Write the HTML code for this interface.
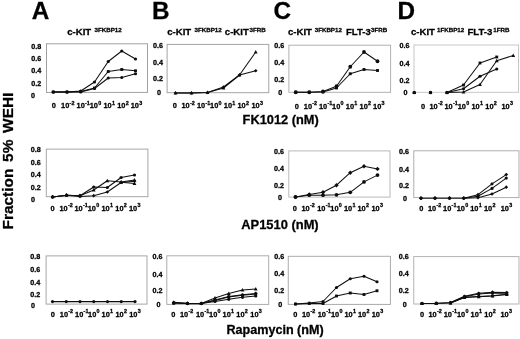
<!DOCTYPE html>
<html><head><meta charset="utf-8"><title>Figure</title>
<style>html,body{margin:0;padding:0;background:#fff;}body{width:520px;height:339px;overflow:hidden;}svg{display:block;font-family:'Liberation Sans', sans-serif;}text{fill:#000;stroke:#000;stroke-width:0.28px;}</style></head><body>
<svg width="520" height="339" viewBox="0 0 520 339">
<defs><filter id="soft" x="0" y="0" width="520" height="339" filterUnits="userSpaceOnUse"><feGaussianBlur stdDeviation="0.35"/></filter></defs>
<rect width="520" height="339" fill="#fff"/>
<g id="fig" filter="url(#soft)">
<text x="31.8" y="18.5" font-size="24.3" font-weight="700" stroke="#000" stroke-width="0.5">A</text>
<text x="152" y="18.5" font-size="24.3" font-weight="700" stroke="#000" stroke-width="0.5">B</text>
<text x="273.6" y="18.5" font-size="24.3" font-weight="700" stroke="#000" stroke-width="0.5">C</text>
<text x="397.6" y="18.5" font-size="24.3" font-weight="700" stroke="#000" stroke-width="0.5">D</text>
<text y="34.5" font-weight="700"><tspan x="67.2" y="35" font-size="9.6">c-KIT</tspan><tspan x="94.5" y="32.3" font-size="6.2">3FKBP12</tspan></text>
<text y="34.5" font-weight="700"><tspan x="167.2" y="35" font-size="9.6">c-KIT</tspan><tspan x="194.5" y="32.3" font-size="6.2">3FKBP12</tspan><tspan x="224.8" y="35" font-size="9.6">c-KIT</tspan><tspan x="249.5" y="32.3" font-size="6.2">3FRB</tspan></text>
<text y="34.5" font-weight="700"><tspan x="288" y="35" font-size="9.6">c-KIT</tspan><tspan x="314.7" y="32.3" font-size="6.2">3FKBP12</tspan><tspan x="346" y="35" font-size="9.6">FLT-3</tspan><tspan x="371.1" y="32.3" font-size="6.2">3FRB</tspan></text>
<text y="34.5" font-weight="700"><tspan x="411" y="35" font-size="9.6">c-KIT</tspan><tspan x="437" y="32.3" font-size="6.2">1FKBP12</tspan><tspan x="467.4" y="35" font-size="9.6">FLT-3</tspan><tspan x="493.2" y="32.3" font-size="6.2">1FRB</tspan></text>
<text x="242.6" y="124" font-size="12.8" font-weight="700" stroke-width="0.38">FK1012 (nM)</text>
<text x="241.3" y="228.6" font-size="12.9" font-weight="700" stroke-width="0.38">AP1510 (nM)</text>
<text x="226.4" y="333.7" font-size="12.6" font-weight="700" stroke-width="0.38">Rapamycin (nM)</text>
<text transform="translate(13.4 229.4) rotate(-90)" font-size="15.4" word-spacing="2.5" font-weight="700" stroke-width="0.3">Fraction 5% WEHI</text>
<rect x="46.5" y="43.8" width="101" height="48.6" fill="none" stroke="#9c9c9c" stroke-width="0.95"/>
<text x="41.2" y="48.55" text-anchor="end" font-size="7.2" font-weight="700">0.8</text><text x="41.2" y="60.55" text-anchor="end" font-size="7.2" font-weight="700">0.6</text><text x="41.2" y="73.05" text-anchor="end" font-size="7.2" font-weight="700">0.4</text><text x="41.2" y="85.75" text-anchor="end" font-size="7.2" font-weight="700">0.2</text><text x="30.9" y="97.55" text-anchor="start" font-size="7.2" font-weight="700">0</text>
<text x="53.7" y="108.1" text-anchor="middle" font-size="7.4" font-weight="700">0</text><text x="65.2" y="108.1" text-anchor="middle" font-size="7.4" font-weight="700">10</text><text x="69.61" y="104.8" text-anchor="start" font-size="5.4" font-weight="700">-2</text><text x="80.65" y="108.1" text-anchor="middle" font-size="7.4" font-weight="700">10</text><text x="85.06" y="104.8" text-anchor="start" font-size="5.4" font-weight="700">-1</text><text x="93.75" y="108.1" text-anchor="middle" font-size="7.4" font-weight="700">10</text><text x="98.16" y="104.8" text-anchor="start" font-size="5.4" font-weight="700">0</text><text x="107.6" y="108.1" text-anchor="middle" font-size="7.4" font-weight="700">10</text><text x="112.01" y="104.8" text-anchor="start" font-size="5.4" font-weight="700">1</text><text x="121.25" y="108.1" text-anchor="middle" font-size="7.4" font-weight="700">10</text><text x="125.66" y="104.8" text-anchor="start" font-size="5.4" font-weight="700">2</text><text x="134.85" y="108.1" text-anchor="middle" font-size="7.4" font-weight="700">10</text><text x="139.26" y="104.8" text-anchor="start" font-size="5.4" font-weight="700">3</text>
<polyline points="53.25,92 67,92 80.75,91 94.5,82 108.25,61.5 121.75,51 135.5,59" fill="none" stroke="#111" stroke-width="1.05" stroke-linejoin="round"/><g fill="#111"><circle cx="53.25" cy="92" r="1.6"/><circle cx="67" cy="92" r="1.6"/><circle cx="80.75" cy="91" r="1.6"/><circle cx="94.5" cy="82" r="1.6"/><circle cx="108.25" cy="61.5" r="1.6"/><circle cx="121.75" cy="51" r="1.6"/><circle cx="135.5" cy="59" r="1.6"/></g>
<polyline points="53.25,92 67,92 80.75,91.5 94.5,88 108.25,71.5 121.75,69.5 135.5,70.75" fill="none" stroke="#111" stroke-width="1.05" stroke-linejoin="round"/><g fill="#111"><rect x="51.81" y="90.56" width="2.88" height="2.88"/><rect x="65.56" y="90.56" width="2.88" height="2.88"/><rect x="79.31" y="90.06" width="2.88" height="2.88"/><rect x="93.06" y="86.56" width="2.88" height="2.88"/><rect x="106.81" y="70.06" width="2.88" height="2.88"/><rect x="120.31" y="68.06" width="2.88" height="2.88"/><rect x="134.06" y="69.31" width="2.88" height="2.88"/></g>
<polyline points="53.25,92 67,92 80.75,92 94.5,88.5 108.25,78 121.75,77.5 135.5,73.75" fill="none" stroke="#111" stroke-width="1.05" stroke-linejoin="round"/><g fill="#111"><circle cx="53.25" cy="92" r="1.6"/><circle cx="67" cy="92" r="1.6"/><circle cx="80.75" cy="92" r="1.6"/><circle cx="94.5" cy="88.5" r="1.6"/><circle cx="108.25" cy="78" r="1.6"/><circle cx="121.75" cy="77.5" r="1.6"/><circle cx="135.5" cy="73.75" r="1.6"/></g>
<rect x="167.1" y="44.4" width="101.7" height="48.3" fill="none" stroke="#a0a0a0" stroke-width="0.95"/>
<text x="163" y="47.55" text-anchor="end" font-size="7.2" font-weight="700">0.6</text><text x="163" y="64.85" text-anchor="end" font-size="7.2" font-weight="700">0.4</text><text x="163" y="81.45" text-anchor="end" font-size="7.2" font-weight="700">0.2</text><text x="161" y="94.75" text-anchor="end" font-size="7.2" font-weight="700">0</text>
<text x="174.8" y="108.3" text-anchor="middle" font-size="7.4" font-weight="700">0</text><text x="185.5" y="108.3" text-anchor="middle" font-size="7.4" font-weight="700">10</text><text x="189.91" y="105" text-anchor="start" font-size="5.4" font-weight="700">-2</text><text x="201.1" y="108.3" text-anchor="middle" font-size="7.4" font-weight="700">10</text><text x="205.51" y="105" text-anchor="start" font-size="5.4" font-weight="700">-1</text><text x="214.2" y="108.3" text-anchor="middle" font-size="7.4" font-weight="700">10</text><text x="218.61" y="105" text-anchor="start" font-size="5.4" font-weight="700">0</text><text x="227.9" y="108.3" text-anchor="middle" font-size="7.4" font-weight="700">10</text><text x="232.31" y="105" text-anchor="start" font-size="5.4" font-weight="700">1</text><text x="241.6" y="108.3" text-anchor="middle" font-size="7.4" font-weight="700">10</text><text x="246.01" y="105" text-anchor="start" font-size="5.4" font-weight="700">2</text><text x="255.6" y="108.3" text-anchor="middle" font-size="7.4" font-weight="700">10</text><text x="260.01" y="105" text-anchor="start" font-size="5.4" font-weight="700">3</text>
<polyline points="175.5,93 191.5,93 207.5,92.5 223.5,88 239.5,75 255.75,52" fill="none" stroke="#111" stroke-width="1.05" stroke-linejoin="round"/><g fill="#111"><path d="M175.5 90.92L177.42 94.44L173.58 94.44Z"/><path d="M191.5 90.92L193.42 94.44L189.58 94.44Z"/><path d="M207.5 90.42L209.42 93.94L205.58 93.94Z"/><path d="M223.5 85.92L225.42 89.44L221.58 89.44Z"/><path d="M239.5 72.92L241.42 76.44L237.58 76.44Z"/><path d="M255.75 49.92L257.67 53.44L253.83 53.44Z"/></g>
<polyline points="175.5,93 191.5,93 207.5,92.5 223.5,87 239.5,75 255.75,70.75" fill="none" stroke="#111" stroke-width="1.05" stroke-linejoin="round"/><g fill="#111"><path d="M175.5 91.16L177.34 93L175.5 94.84L173.66 93Z"/><path d="M191.5 91.16L193.34 93L191.5 94.84L189.66 93Z"/><path d="M207.5 90.66L209.34 92.5L207.5 94.34L205.66 92.5Z"/><path d="M223.5 85.16L225.34 87L223.5 88.84L221.66 87Z"/><path d="M239.5 73.16L241.34 75L239.5 76.84L237.66 75Z"/><path d="M255.75 68.91L257.59 70.75L255.75 72.59L253.91 70.75Z"/></g>
<rect x="288.9" y="45.2" width="101.7" height="47.1" fill="none" stroke="#adadad" stroke-width="0.95"/>
<text x="284.3" y="47.95" text-anchor="end" font-size="7.2" font-weight="700">0.6</text><text x="284.3" y="65.15" text-anchor="end" font-size="7.2" font-weight="700">0.4</text><text x="284.3" y="82.05" text-anchor="end" font-size="7.2" font-weight="700">0.2</text><text x="282.3" y="94.8" text-anchor="end" font-size="7.2" font-weight="700">0</text>
<text x="296.9" y="108.6" text-anchor="middle" font-size="7.4" font-weight="700">0</text><text x="307.9" y="108.6" text-anchor="middle" font-size="7.4" font-weight="700">10</text><text x="312.31" y="105.3" text-anchor="start" font-size="5.4" font-weight="700">-2</text><text x="323.1" y="108.6" text-anchor="middle" font-size="7.4" font-weight="700">10</text><text x="327.51" y="105.3" text-anchor="start" font-size="5.4" font-weight="700">-1</text><text x="336.2" y="108.6" text-anchor="middle" font-size="7.4" font-weight="700">10</text><text x="340.61" y="105.3" text-anchor="start" font-size="5.4" font-weight="700">0</text><text x="349.9" y="108.6" text-anchor="middle" font-size="7.4" font-weight="700">10</text><text x="354.31" y="105.3" text-anchor="start" font-size="5.4" font-weight="700">1</text><text x="363.7" y="108.6" text-anchor="middle" font-size="7.4" font-weight="700">10</text><text x="368.11" y="105.3" text-anchor="start" font-size="5.4" font-weight="700">2</text><text x="377.2" y="108.6" text-anchor="middle" font-size="7.4" font-weight="700">10</text><text x="381.61" y="105.3" text-anchor="start" font-size="5.4" font-weight="700">3</text>
<polyline points="295.75,92.25 309.25,92.25 323,91.5 336.5,86.25 350.25,66.75 364,52 377.5,61.25" fill="none" stroke="#111" stroke-width="1.05" stroke-linejoin="round"/><g fill="#111"><circle cx="295.75" cy="92.25" r="1.9"/><circle cx="309.25" cy="92.25" r="1.9"/><circle cx="323" cy="91.5" r="1.9"/><circle cx="336.5" cy="86.25" r="1.9"/><circle cx="350.25" cy="66.75" r="1.9"/><circle cx="364" cy="52" r="1.9"/><circle cx="377.5" cy="61.25" r="1.9"/></g>
<polyline points="295.75,92.25 309.25,92.25 323,92 336.5,88 350.25,73.75 364,69.5 377.5,70.5" fill="none" stroke="#111" stroke-width="1.05" stroke-linejoin="round"/><g fill="#111"><rect x="294.31" y="90.81" width="2.88" height="2.88"/><rect x="307.81" y="90.81" width="2.88" height="2.88"/><rect x="321.56" y="90.56" width="2.88" height="2.88"/><rect x="335.06" y="86.56" width="2.88" height="2.88"/><rect x="348.81" y="72.31" width="2.88" height="2.88"/><rect x="362.56" y="68.06" width="2.88" height="2.88"/><rect x="376.06" y="69.06" width="2.88" height="2.88"/></g>
<rect x="414" y="45" width="104.5" height="47.3" fill="none" stroke="#c4c4c4" stroke-width="0.95"/>
<text x="409.5" y="48.25" text-anchor="end" font-size="7.2" font-weight="700">0.6</text><text x="409.5" y="65.55" text-anchor="end" font-size="7.2" font-weight="700">0.4</text><text x="409.5" y="82.55" text-anchor="end" font-size="7.2" font-weight="700">0.2</text><text x="407.5" y="95.05" text-anchor="end" font-size="7.2" font-weight="700">0</text>
<text x="423" y="108.6" text-anchor="middle" font-size="7.4" font-weight="700">0</text><text x="433.5" y="108.6" text-anchor="middle" font-size="7.4" font-weight="700">10</text><text x="437.91" y="105.3" text-anchor="start" font-size="5.4" font-weight="700">-2</text><text x="448.6" y="108.6" text-anchor="middle" font-size="7.4" font-weight="700">10</text><text x="453.01" y="105.3" text-anchor="start" font-size="5.4" font-weight="700">-1</text><text x="461.75" y="108.6" text-anchor="middle" font-size="7.4" font-weight="700">10</text><text x="466.16" y="105.3" text-anchor="start" font-size="5.4" font-weight="700">0</text><text x="475.5" y="108.6" text-anchor="middle" font-size="7.4" font-weight="700">10</text><text x="479.91" y="105.3" text-anchor="start" font-size="5.4" font-weight="700">1</text><text x="489.4" y="108.6" text-anchor="middle" font-size="7.4" font-weight="700">10</text><text x="493.81" y="105.3" text-anchor="start" font-size="5.4" font-weight="700">2</text><text x="505.6" y="108.6" text-anchor="middle" font-size="7.4" font-weight="700">10</text><text x="510.01" y="105.3" text-anchor="start" font-size="5.4" font-weight="700">3</text>
<polyline points="447,92.6 463.5,85 480,63 496.75,57" fill="none" stroke="#111" stroke-width="1.05" stroke-linejoin="round"/><g fill="#111"><rect x="412.81" y="91.16" width="2.88" height="2.88"/><rect x="429.06" y="91.16" width="2.88" height="2.88"/><rect x="445.56" y="91.16" width="2.88" height="2.88"/><rect x="462.06" y="83.56" width="2.88" height="2.88"/><rect x="478.56" y="61.56" width="2.88" height="2.88"/><rect x="495.31" y="55.56" width="2.88" height="2.88"/></g>
<polyline points="447,92.6 463.5,88.75 480,76.25 496.75,69" fill="none" stroke="#111" stroke-width="1.05" stroke-linejoin="round"/><g fill="#111"><circle cx="414.25" cy="92.6" r="1.6"/><circle cx="430.5" cy="92.6" r="1.6"/><circle cx="447" cy="92.6" r="1.6"/><circle cx="463.5" cy="88.75" r="1.6"/><circle cx="480" cy="76.25" r="1.6"/><circle cx="496.75" cy="69" r="1.6"/></g>
<polyline points="447,92.6 463.5,92 480,84.5 496.75,60.75 513.25,55.5" fill="none" stroke="#111" stroke-width="1.05" stroke-linejoin="round"/><g fill="#111"><path d="M414.25 90.52L416.17 94.04L412.33 94.04Z"/><path d="M430.5 90.52L432.42 94.04L428.58 94.04Z"/><path d="M447 90.52L448.92 94.04L445.08 94.04Z"/><path d="M463.5 89.92L465.42 93.44L461.58 93.44Z"/><path d="M480 82.42L481.92 85.94L478.08 85.94Z"/><path d="M496.75 58.67L498.67 62.19L494.83 62.19Z"/><path d="M513.25 53.42L515.17 56.94L511.33 56.94Z"/></g>
<rect x="46.3" y="149.1" width="101.6" height="47.6" fill="none" stroke="#a2a2a2" stroke-width="0.95"/>
<text x="40.7" y="152.25" text-anchor="end" font-size="7.2" font-weight="700">0.8</text><text x="40.7" y="165.05" text-anchor="end" font-size="7.2" font-weight="700">0.6</text><text x="40.7" y="177.35" text-anchor="end" font-size="7.2" font-weight="700">0.4</text><text x="40.7" y="190.25" text-anchor="end" font-size="7.2" font-weight="700">0.2</text><text x="30.9" y="201.85" text-anchor="start" font-size="7.2" font-weight="700">0</text>
<text x="52.5" y="210.6" text-anchor="middle" font-size="7.4" font-weight="700">0</text><text x="63.5" y="210.6" text-anchor="middle" font-size="7.4" font-weight="700">10</text><text x="67.91" y="207.3" text-anchor="start" font-size="5.4" font-weight="700">-2</text><text x="78.6" y="210.6" text-anchor="middle" font-size="7.4" font-weight="700">10</text><text x="83.01" y="207.3" text-anchor="start" font-size="5.4" font-weight="700">-1</text><text x="91.75" y="210.6" text-anchor="middle" font-size="7.4" font-weight="700">10</text><text x="96.16" y="207.3" text-anchor="start" font-size="5.4" font-weight="700">0</text><text x="105.5" y="210.6" text-anchor="middle" font-size="7.4" font-weight="700">10</text><text x="109.91" y="207.3" text-anchor="start" font-size="5.4" font-weight="700">1</text><text x="119.4" y="210.6" text-anchor="middle" font-size="7.4" font-weight="700">10</text><text x="123.81" y="207.3" text-anchor="start" font-size="5.4" font-weight="700">2</text><text x="133.1" y="210.6" text-anchor="middle" font-size="7.4" font-weight="700">10</text><text x="137.51" y="207.3" text-anchor="start" font-size="5.4" font-weight="700">3</text>
<polyline points="52.6,196.9 66.5,195.2 80,195.7 93.7,190 107.3,180.75 121.1,182 134.5,180" fill="none" stroke="#111" stroke-width="1.05" stroke-linejoin="round"/><g fill="#111"><path d="M52.6 194.82L54.52 198.34L50.68 198.34Z"/><path d="M66.5 193.12L68.42 196.64L64.58 196.64Z"/><path d="M80 193.62L81.92 197.14L78.08 197.14Z"/><path d="M93.7 187.92L95.62 191.44L91.78 191.44Z"/><path d="M107.3 178.67L109.22 182.19L105.38 182.19Z"/><path d="M121.1 179.92L123.02 183.44L119.18 183.44Z"/><path d="M134.5 177.92L136.42 181.44L132.58 181.44Z"/></g>
<polyline points="52.6,196.9 66.5,195.2 80,195.7 93.7,187 107.3,187.5 121.1,177.5 134.5,175" fill="none" stroke="#111" stroke-width="1.05" stroke-linejoin="round"/><g fill="#111"><circle cx="52.6" cy="196.9" r="1.6"/><circle cx="66.5" cy="195.2" r="1.6"/><circle cx="80" cy="195.7" r="1.6"/><circle cx="93.7" cy="187" r="1.6"/><circle cx="107.3" cy="187.5" r="1.6"/><circle cx="121.1" cy="177.5" r="1.6"/><circle cx="134.5" cy="175" r="1.6"/></g>
<polyline points="52.6,196.9 66.5,195.2 80,196.4 93.7,195.7 107.3,192 121.1,182.5 134.5,181.25" fill="none" stroke="#111" stroke-width="1.05" stroke-linejoin="round"/><g fill="#111"><path d="M52.6 195.06L54.44 196.9L52.6 198.74L50.76 196.9Z"/><path d="M66.5 193.36L68.34 195.2L66.5 197.04L64.66 195.2Z"/><path d="M80 194.56L81.84 196.4L80 198.24L78.16 196.4Z"/><path d="M93.7 193.86L95.54 195.7L93.7 197.54L91.86 195.7Z"/><path d="M107.3 190.16L109.14 192L107.3 193.84L105.46 192Z"/><path d="M121.1 180.66L122.94 182.5L121.1 184.34L119.26 182.5Z"/><path d="M134.5 179.41L136.34 181.25L134.5 183.09L132.66 181.25Z"/></g>
<polyline points="121.1,182.3 134.5,183.6" fill="none" stroke="#111" stroke-width="1.05" stroke-linejoin="round"/><g fill="#111"><path d="M121.1 180.22L123.02 183.74L119.18 183.74Z"/><path d="M134.5 181.52L136.42 185.04L132.58 185.04Z"/></g>
<rect x="288.8" y="150.9" width="101.2" height="46.2" fill="none" stroke="#b6b6b6" stroke-width="0.95"/>
<text x="284" y="154.05" text-anchor="end" font-size="7.2" font-weight="700">0.6</text><text x="284" y="171.05" text-anchor="end" font-size="7.2" font-weight="700">0.4</text><text x="284" y="187.75" text-anchor="end" font-size="7.2" font-weight="700">0.2</text><text x="282" y="199.75" text-anchor="end" font-size="7.2" font-weight="700">0</text>
<text x="294.9" y="210.6" text-anchor="middle" font-size="7.4" font-weight="700">0</text><text x="305.5" y="210.6" text-anchor="middle" font-size="7.4" font-weight="700">10</text><text x="309.91" y="207.3" text-anchor="start" font-size="5.4" font-weight="700">-2</text><text x="321.25" y="210.6" text-anchor="middle" font-size="7.4" font-weight="700">10</text><text x="325.66" y="207.3" text-anchor="start" font-size="5.4" font-weight="700">-1</text><text x="334.4" y="210.6" text-anchor="middle" font-size="7.4" font-weight="700">10</text><text x="338.81" y="207.3" text-anchor="start" font-size="5.4" font-weight="700">0</text><text x="348.1" y="210.6" text-anchor="middle" font-size="7.4" font-weight="700">10</text><text x="352.51" y="207.3" text-anchor="start" font-size="5.4" font-weight="700">1</text><text x="361.6" y="210.6" text-anchor="middle" font-size="7.4" font-weight="700">10</text><text x="366.01" y="207.3" text-anchor="start" font-size="5.4" font-weight="700">2</text><text x="375.6" y="210.6" text-anchor="middle" font-size="7.4" font-weight="700">10</text><text x="380.01" y="207.3" text-anchor="start" font-size="5.4" font-weight="700">3</text>
<polyline points="295.5,197 309.25,194.4 323,192.2 336.5,185.2 350.25,172.7 364,166.2 377.5,168.9" fill="none" stroke="#111" stroke-width="1.05" stroke-linejoin="round"/><g fill="#111"><path d="M295.5 194.81L297.69 197L295.5 199.19L293.31 197Z"/><path d="M309.25 192.22L311.44 194.4L309.25 196.59L307.06 194.4Z"/><path d="M323 190.01L325.19 192.2L323 194.38L320.81 192.2Z"/><path d="M336.5 183.01L338.69 185.2L336.5 187.38L334.31 185.2Z"/><path d="M350.25 170.51L352.44 172.7L350.25 174.88L348.06 172.7Z"/><path d="M364 164.01L366.19 166.2L364 168.38L361.81 166.2Z"/><path d="M377.5 166.72L379.69 168.9L377.5 171.09L375.31 168.9Z"/></g>
<polyline points="295.5,197 309.25,195.2 323,195.2 336.5,194.8 350.25,192.3 364,181.9 377.5,175.1" fill="none" stroke="#111" stroke-width="1.05" stroke-linejoin="round"/><g fill="#111"><circle cx="295.5" cy="197" r="1.9"/><circle cx="309.25" cy="195.2" r="1.9"/><circle cx="323" cy="195.2" r="1.9"/><circle cx="336.5" cy="194.8" r="1.9"/><circle cx="350.25" cy="192.3" r="1.9"/><circle cx="364" cy="181.9" r="1.9"/><circle cx="377.5" cy="175.1" r="1.9"/></g>
<rect x="413.8" y="150.8" width="105.2" height="46.8" fill="none" stroke="#aaaaaa" stroke-width="0.95"/>
<text x="409" y="154.05" text-anchor="end" font-size="7.2" font-weight="700">0.6</text><text x="409" y="171.55" text-anchor="end" font-size="7.2" font-weight="700">0.4</text><text x="409" y="188.25" text-anchor="end" font-size="7.2" font-weight="700">0.2</text><text x="407" y="200.55" text-anchor="end" font-size="7.2" font-weight="700">0</text>
<text x="421.4" y="210.6" text-anchor="middle" font-size="7.4" font-weight="700">0</text><text x="432" y="210.6" text-anchor="middle" font-size="7.4" font-weight="700">10</text><text x="436.41" y="207.3" text-anchor="start" font-size="5.4" font-weight="700">-2</text><text x="447.2" y="210.6" text-anchor="middle" font-size="7.4" font-weight="700">10</text><text x="451.61" y="207.3" text-anchor="start" font-size="5.4" font-weight="700">-1</text><text x="460.75" y="210.6" text-anchor="middle" font-size="7.4" font-weight="700">10</text><text x="465.16" y="207.3" text-anchor="start" font-size="5.4" font-weight="700">0</text><text x="474.25" y="210.6" text-anchor="middle" font-size="7.4" font-weight="700">10</text><text x="478.66" y="207.3" text-anchor="start" font-size="5.4" font-weight="700">1</text><text x="488" y="210.6" text-anchor="middle" font-size="7.4" font-weight="700">10</text><text x="492.41" y="207.3" text-anchor="start" font-size="5.4" font-weight="700">2</text><text x="504.75" y="210.6" text-anchor="middle" font-size="7.4" font-weight="700">10</text><text x="509.16" y="207.3" text-anchor="start" font-size="5.4" font-weight="700">3</text>
<polyline points="421,198.2 435,198.2 449.5,198.2 463.75,198.2 478,194.7 492,183.9 506.25,174.6" fill="none" stroke="#111" stroke-width="1.05" stroke-linejoin="round"/><g fill="#111"><path d="M421 196.36L422.84 198.2L421 200.04L419.16 198.2Z"/><path d="M435 196.36L436.84 198.2L435 200.04L433.16 198.2Z"/><path d="M449.5 196.36L451.34 198.2L449.5 200.04L447.66 198.2Z"/><path d="M463.75 196.36L465.59 198.2L463.75 200.04L461.91 198.2Z"/><path d="M478 192.86L479.84 194.7L478 196.54L476.16 194.7Z"/><path d="M492 182.06L493.84 183.9L492 185.74L490.16 183.9Z"/><path d="M506.25 172.76L508.09 174.6L506.25 176.44L504.41 174.6Z"/></g>
<polyline points="463.75,198.2 478,196.2 492,188.4 506.25,178.1" fill="none" stroke="#111" stroke-width="1.05" stroke-linejoin="round"/><g fill="#111"><circle cx="421" cy="198.2" r="1.6"/><circle cx="435" cy="198.2" r="1.6"/><circle cx="449.5" cy="198.2" r="1.6"/><circle cx="463.75" cy="198.2" r="1.6"/><circle cx="478" cy="196.2" r="1.6"/><circle cx="492" cy="188.4" r="1.6"/><circle cx="506.25" cy="178.1" r="1.6"/></g>
<polyline points="463.75,198.2 478,197.7 492,194 506.25,187.2" fill="none" stroke="#111" stroke-width="1.05" stroke-linejoin="round"/><g fill="#111"><path d="M421 196.36L422.84 198.2L421 200.04L419.16 198.2Z"/><path d="M435 196.36L436.84 198.2L435 200.04L433.16 198.2Z"/><path d="M449.5 196.36L451.34 198.2L449.5 200.04L447.66 198.2Z"/><path d="M463.75 196.36L465.59 198.2L463.75 200.04L461.91 198.2Z"/><path d="M478 195.86L479.84 197.7L478 199.54L476.16 197.7Z"/><path d="M492 192.16L493.84 194L492 195.84L490.16 194Z"/><path d="M506.25 185.36L508.09 187.2L506.25 189.04L504.41 187.2Z"/></g>
<rect x="46.1" y="255.9" width="100.9" height="48.2" fill="none" stroke="#a2a2a2" stroke-width="0.95"/>
<text x="40.3" y="259.05" text-anchor="end" font-size="7.2" font-weight="700">0.8</text><text x="40.3" y="272.05" text-anchor="end" font-size="7.2" font-weight="700">0.6</text><text x="40.3" y="284.55" text-anchor="end" font-size="7.2" font-weight="700">0.4</text><text x="40.3" y="296.55" text-anchor="end" font-size="7.2" font-weight="700">0.2</text><text x="30.9" y="308.05" text-anchor="start" font-size="7.2" font-weight="700">0</text>
<text x="52.8" y="316.6" text-anchor="middle" font-size="7.4" font-weight="700">0</text><text x="63.9" y="316.6" text-anchor="middle" font-size="7.4" font-weight="700">10</text><text x="68.31" y="313.3" text-anchor="start" font-size="5.4" font-weight="700">-2</text><text x="79.2" y="316.6" text-anchor="middle" font-size="7.4" font-weight="700">10</text><text x="83.61" y="313.3" text-anchor="start" font-size="5.4" font-weight="700">-1</text><text x="92.2" y="316.6" text-anchor="middle" font-size="7.4" font-weight="700">10</text><text x="96.61" y="313.3" text-anchor="start" font-size="5.4" font-weight="700">0</text><text x="105.7" y="316.6" text-anchor="middle" font-size="7.4" font-weight="700">10</text><text x="110.11" y="313.3" text-anchor="start" font-size="5.4" font-weight="700">1</text><text x="119.6" y="316.6" text-anchor="middle" font-size="7.4" font-weight="700">10</text><text x="124.01" y="313.3" text-anchor="start" font-size="5.4" font-weight="700">2</text><text x="133.3" y="316.6" text-anchor="middle" font-size="7.4" font-weight="700">10</text><text x="137.71" y="313.3" text-anchor="start" font-size="5.4" font-weight="700">3</text>
<polyline points="52.5,301.6 66.25,301.6 80,301.6 93.75,301.6 107.5,301.6 121.25,301.6 135,301.6" fill="none" stroke="#111" stroke-width="1.05" stroke-linejoin="round"/><g fill="#111"><circle cx="52.5" cy="301.6" r="1.6"/><circle cx="66.25" cy="301.6" r="1.6"/><circle cx="80" cy="301.6" r="1.6"/><circle cx="93.75" cy="301.6" r="1.6"/><circle cx="107.5" cy="301.6" r="1.6"/><circle cx="121.25" cy="301.6" r="1.6"/><circle cx="135" cy="301.6" r="1.6"/></g>
<rect x="166.8" y="255.8" width="101.9" height="48.6" fill="none" stroke="#a8a8a8" stroke-width="0.95"/>
<text x="162.5" y="258.85" text-anchor="end" font-size="7.2" font-weight="700">0.6</text><text x="162.5" y="276.55" text-anchor="end" font-size="7.2" font-weight="700">0.4</text><text x="162.5" y="293.35" text-anchor="end" font-size="7.2" font-weight="700">0.2</text><text x="160.5" y="306.75" text-anchor="end" font-size="7.2" font-weight="700">0</text>
<text x="173.4" y="316.6" text-anchor="middle" font-size="7.4" font-weight="700">0</text><text x="184.1" y="316.6" text-anchor="middle" font-size="7.4" font-weight="700">10</text><text x="188.51" y="313.3" text-anchor="start" font-size="5.4" font-weight="700">-2</text><text x="200" y="316.6" text-anchor="middle" font-size="7.4" font-weight="700">10</text><text x="204.41" y="313.3" text-anchor="start" font-size="5.4" font-weight="700">-1</text><text x="213.2" y="316.6" text-anchor="middle" font-size="7.4" font-weight="700">10</text><text x="217.61" y="313.3" text-anchor="start" font-size="5.4" font-weight="700">0</text><text x="226.7" y="316.6" text-anchor="middle" font-size="7.4" font-weight="700">10</text><text x="231.11" y="313.3" text-anchor="start" font-size="5.4" font-weight="700">1</text><text x="240.4" y="316.6" text-anchor="middle" font-size="7.4" font-weight="700">10</text><text x="244.81" y="313.3" text-anchor="start" font-size="5.4" font-weight="700">2</text><text x="254.4" y="316.6" text-anchor="middle" font-size="7.4" font-weight="700">10</text><text x="258.81" y="313.3" text-anchor="start" font-size="5.4" font-weight="700">3</text>
<polyline points="173.75,302.3 187.5,303.3 201.25,303.4 215,298.1 228.75,293.5 242.5,290 255.75,289" fill="none" stroke="#111" stroke-width="1.05" stroke-linejoin="round"/><g fill="#111"><path d="M173.75 300.22L175.67 303.74L171.83 303.74Z"/><path d="M187.5 301.22L189.42 304.74L185.58 304.74Z"/><path d="M201.25 301.32L203.17 304.84L199.33 304.84Z"/><path d="M215 296.02L216.92 299.54L213.08 299.54Z"/><path d="M228.75 291.42L230.67 294.94L226.83 294.94Z"/><path d="M242.5 287.92L244.42 291.44L240.58 291.44Z"/><path d="M255.75 286.92L257.67 290.44L253.83 290.44Z"/></g>
<polyline points="173.75,302.8 187.5,303.4 201.25,303.5 215,300 228.75,296.4 242.5,294.8 255.75,293.4" fill="none" stroke="#111" stroke-width="1.05" stroke-linejoin="round"/><g fill="#111"><path d="M173.75 300.96L175.59 302.8L173.75 304.64L171.91 302.8Z"/><path d="M187.5 301.56L189.34 303.4L187.5 305.24L185.66 303.4Z"/><path d="M201.25 301.66L203.09 303.5L201.25 305.34L199.41 303.5Z"/><path d="M215 298.16L216.84 300L215 301.84L213.16 300Z"/><path d="M228.75 294.56L230.59 296.4L228.75 298.24L226.91 296.4Z"/><path d="M242.5 292.96L244.34 294.8L242.5 296.64L240.66 294.8Z"/><path d="M255.75 291.56L257.59 293.4L255.75 295.24L253.91 293.4Z"/></g>
<polyline points="201.25,303.5 215,300.5 228.75,297 242.5,295.3 255.75,293.9" fill="none" stroke="#111" stroke-width="1.05" stroke-linejoin="round"/><g fill="#111"><rect x="172.31" y="301.56" width="2.88" height="2.88"/><rect x="186.06" y="302.06" width="2.88" height="2.88"/><rect x="199.81" y="302.06" width="2.88" height="2.88"/><rect x="213.56" y="299.06" width="2.88" height="2.88"/><rect x="227.31" y="295.56" width="2.88" height="2.88"/><rect x="241.06" y="293.86" width="2.88" height="2.88"/><rect x="254.31" y="292.46" width="2.88" height="2.88"/></g>
<polyline points="173.75,303.2 187.5,303.6 201.25,303.6 215,301.4 228.75,299.3 242.5,297.3 255.75,296" fill="none" stroke="#111" stroke-width="1.05" stroke-linejoin="round"/><g fill="#111"><circle cx="173.75" cy="303.2" r="1.6"/><circle cx="187.5" cy="303.6" r="1.6"/><circle cx="201.25" cy="303.6" r="1.6"/><circle cx="215" cy="301.4" r="1.6"/><circle cx="228.75" cy="299.3" r="1.6"/><circle cx="242.5" cy="297.3" r="1.6"/><circle cx="255.75" cy="296" r="1.6"/></g>
<rect x="288.25" y="256.3" width="102.15" height="48.1" fill="none" stroke="#a6a6a6" stroke-width="0.95"/>
<text x="284.2" y="259.05" text-anchor="end" font-size="7.2" font-weight="700">0.6</text><text x="284.2" y="276.05" text-anchor="end" font-size="7.2" font-weight="700">0.4</text><text x="284.2" y="293.3" text-anchor="end" font-size="7.2" font-weight="700">0.2</text><text x="282.2" y="306.55" text-anchor="end" font-size="7.2" font-weight="700">0</text>
<text x="295.4" y="316.6" text-anchor="middle" font-size="7.4" font-weight="700">0</text><text x="306.1" y="316.6" text-anchor="middle" font-size="7.4" font-weight="700">10</text><text x="310.51" y="313.3" text-anchor="start" font-size="5.4" font-weight="700">-2</text><text x="321.85" y="316.6" text-anchor="middle" font-size="7.4" font-weight="700">10</text><text x="326.26" y="313.3" text-anchor="start" font-size="5.4" font-weight="700">-1</text><text x="335" y="316.6" text-anchor="middle" font-size="7.4" font-weight="700">10</text><text x="339.41" y="313.3" text-anchor="start" font-size="5.4" font-weight="700">0</text><text x="348.5" y="316.6" text-anchor="middle" font-size="7.4" font-weight="700">10</text><text x="352.91" y="313.3" text-anchor="start" font-size="5.4" font-weight="700">1</text><text x="362" y="316.6" text-anchor="middle" font-size="7.4" font-weight="700">10</text><text x="366.41" y="313.3" text-anchor="start" font-size="5.4" font-weight="700">2</text><text x="375.75" y="316.6" text-anchor="middle" font-size="7.4" font-weight="700">10</text><text x="380.16" y="313.3" text-anchor="start" font-size="5.4" font-weight="700">3</text>
<polyline points="295.5,304 309.25,303 323,301.5 336.5,287.5 350.25,278.75 364,276.25 377,281.75" fill="none" stroke="#111" stroke-width="1.05" stroke-linejoin="round"/><g fill="#111"><circle cx="295.5" cy="304" r="1.6"/><circle cx="309.25" cy="303" r="1.6"/><circle cx="323" cy="301.5" r="1.6"/><circle cx="336.5" cy="287.5" r="1.6"/><circle cx="350.25" cy="278.75" r="1.6"/><circle cx="364" cy="276.25" r="1.6"/><circle cx="377" cy="281.75" r="1.6"/></g>
<polyline points="295.5,304 309.25,303.5 323,303.5 336.5,296 350.25,293 364,294.5 377,290.75" fill="none" stroke="#111" stroke-width="1.05" stroke-linejoin="round"/><g fill="#111"><rect x="294.06" y="302.56" width="2.88" height="2.88"/><rect x="307.81" y="302.06" width="2.88" height="2.88"/><rect x="321.56" y="302.06" width="2.88" height="2.88"/><rect x="335.06" y="294.56" width="2.88" height="2.88"/><rect x="348.81" y="291.56" width="2.88" height="2.88"/><rect x="362.56" y="293.06" width="2.88" height="2.88"/><rect x="375.56" y="289.31" width="2.88" height="2.88"/></g>
<rect x="413.75" y="256.6" width="105.25" height="47.4" fill="none" stroke="#b0b0b0" stroke-width="0.95"/>
<text x="408.8" y="259.05" text-anchor="end" font-size="7.2" font-weight="700">0.6</text><text x="408.8" y="276.05" text-anchor="end" font-size="7.2" font-weight="700">0.4</text><text x="408.8" y="293.3" text-anchor="end" font-size="7.2" font-weight="700">0.2</text><text x="406.8" y="306.55" text-anchor="end" font-size="7.2" font-weight="700">0</text>
<text x="422" y="316.6" text-anchor="middle" font-size="7.4" font-weight="700">0</text><text x="432.5" y="316.6" text-anchor="middle" font-size="7.4" font-weight="700">10</text><text x="436.91" y="313.3" text-anchor="start" font-size="5.4" font-weight="700">-2</text><text x="447.8" y="316.6" text-anchor="middle" font-size="7.4" font-weight="700">10</text><text x="452.21" y="313.3" text-anchor="start" font-size="5.4" font-weight="700">-1</text><text x="461.1" y="316.6" text-anchor="middle" font-size="7.4" font-weight="700">10</text><text x="465.51" y="313.3" text-anchor="start" font-size="5.4" font-weight="700">0</text><text x="474.7" y="316.6" text-anchor="middle" font-size="7.4" font-weight="700">10</text><text x="479.11" y="313.3" text-anchor="start" font-size="5.4" font-weight="700">1</text><text x="488.4" y="316.6" text-anchor="middle" font-size="7.4" font-weight="700">10</text><text x="492.81" y="313.3" text-anchor="start" font-size="5.4" font-weight="700">2</text><text x="504.6" y="316.6" text-anchor="middle" font-size="7.4" font-weight="700">10</text><text x="509.01" y="313.3" text-anchor="start" font-size="5.4" font-weight="700">3</text>
<polyline points="422,303.5 436.25,303.25 450.5,302.5 464.5,296.3 478.75,293.25 492.5,292.2 506.75,292.6" fill="none" stroke="#111" stroke-width="1.05" stroke-linejoin="round"/><g fill="#111"><path d="M422 301.66L423.84 303.5L422 305.34L420.16 303.5Z"/><path d="M436.25 301.41L438.09 303.25L436.25 305.09L434.41 303.25Z"/><path d="M450.5 300.66L452.34 302.5L450.5 304.34L448.66 302.5Z"/><path d="M464.5 294.46L466.34 296.3L464.5 298.14L462.66 296.3Z"/><path d="M478.75 291.41L480.59 293.25L478.75 295.09L476.91 293.25Z"/><path d="M492.5 290.36L494.34 292.2L492.5 294.04L490.66 292.2Z"/><path d="M506.75 290.76L508.59 292.6L506.75 294.44L504.91 292.6Z"/></g>
<polyline points="450.5,302.75 464.5,296.8 478.75,294 492.5,293 506.75,293.2" fill="none" stroke="#111" stroke-width="1.05" stroke-linejoin="round"/><g fill="#111"><rect x="420.56" y="302.06" width="2.88" height="2.88"/><rect x="434.81" y="301.81" width="2.88" height="2.88"/><rect x="449.06" y="301.31" width="2.88" height="2.88"/><rect x="463.06" y="295.36" width="2.88" height="2.88"/><rect x="477.31" y="292.56" width="2.88" height="2.88"/><rect x="491.06" y="291.56" width="2.88" height="2.88"/><rect x="505.31" y="291.76" width="2.88" height="2.88"/></g>
<polyline points="422,303.5 436.25,303.5 450.5,303 464.5,297.3 478.75,296.4 492.5,295.8 506.75,294.3" fill="none" stroke="#111" stroke-width="1.05" stroke-linejoin="round"/><g fill="#111"><circle cx="422" cy="303.5" r="1.6"/><circle cx="436.25" cy="303.5" r="1.6"/><circle cx="450.5" cy="303" r="1.6"/><circle cx="464.5" cy="297.3" r="1.6"/><circle cx="478.75" cy="296.4" r="1.6"/><circle cx="492.5" cy="295.8" r="1.6"/><circle cx="506.75" cy="294.3" r="1.6"/></g>
<polyline points="450.5,303 464.5,297.6 478.75,296.7 492.5,296 506.75,294.6" fill="none" stroke="#111" stroke-width="1.05" stroke-linejoin="round"/><g fill="#111"><path d="M422 301.42L423.92 304.94L420.08 304.94Z"/><path d="M436.25 301.42L438.17 304.94L434.33 304.94Z"/><path d="M450.5 300.92L452.42 304.44L448.58 304.44Z"/><path d="M464.5 295.52L466.42 299.04L462.58 299.04Z"/><path d="M478.75 294.62L480.67 298.14L476.83 298.14Z"/><path d="M492.5 293.92L494.42 297.44L490.58 297.44Z"/><path d="M506.75 292.52L508.67 296.04L504.83 296.04Z"/></g>
</g></svg></body></html>
